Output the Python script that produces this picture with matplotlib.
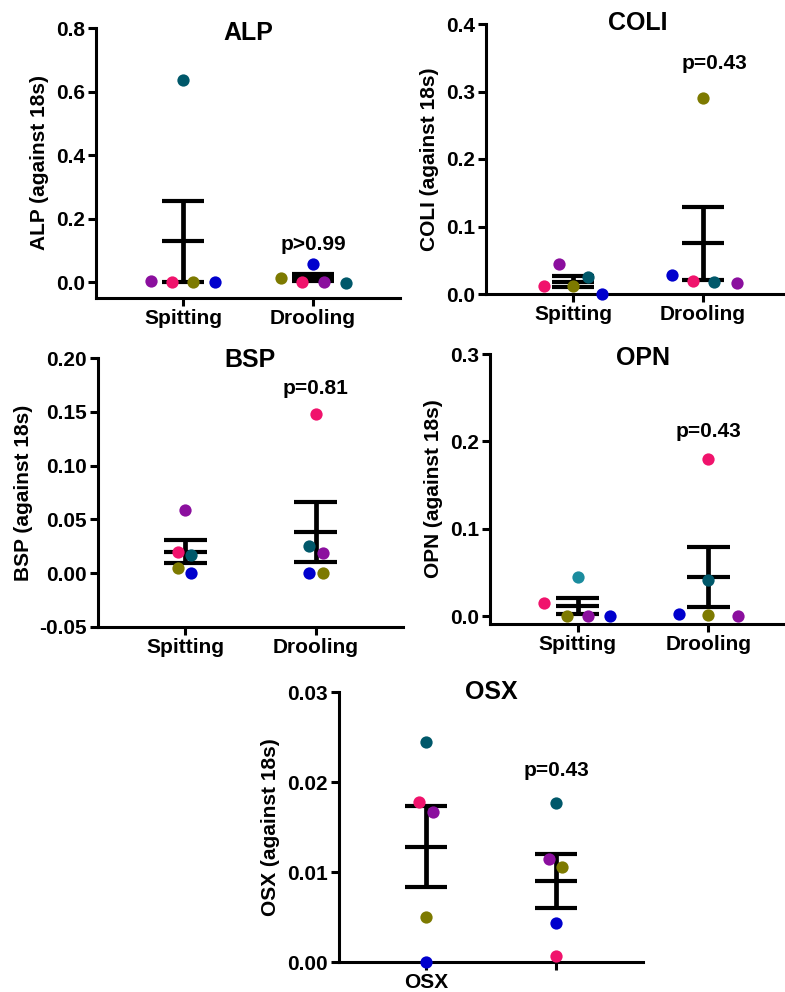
import matplotlib.pyplot as plt
from matplotlib.transforms import blended_transform_factory, offset_copy

plt.rcParams["font.family"] = ["Liberation Sans", "DejaVu Sans"]
plt.rcParams["font.weight"] = "bold"
plt.rcParams["axes.labelweight"] = "bold"

# dot order inside every group: purple, pink, olive, blue, teal
dot_names = ["purple", "pink", "olive", "blue", "teal"]

alp_spitting = [0.003, 0.0, 0.0, 0.0, 0.636]
alp_drooling = [0.0, 0.0, 0.012, 0.057, -0.002]
alp_mean = [0.128, 0.014]
alp_sem = [0.128, 0.011]

coli_spitting = [0.044, 0.012, 0.012, 0.0, 0.025]
coli_drooling = [0.017, 0.019, 0.290, 0.028, 0.018]
coli_mean = [0.018, 0.075]
coli_sem = [0.008, 0.054]

bsp_spitting = [0.059, 0.020, 0.005, 0.0, 0.017]
bsp_drooling = [0.019, 0.148, 0.0, 0.0, 0.025]
bsp_mean = [0.020, 0.038]
bsp_sem = [0.0105, 0.028]

opn_spitting = [0.0, 0.015, 0.0, 0.0, 0.045]
opn_drooling = [0.0, 0.180, 0.001, 0.002, 0.041]
opn_mean = [0.012, 0.045]
opn_sem = [0.009, 0.0345]

osx_group1 = [0.0167, 0.0178, 0.005, 0.0, 0.0244]
osx_group2 = [0.0114, 0.0007, 0.0106, 0.0043, 0.0177]
osx_mean = [0.0128, 0.0090]
osx_sem = [0.0045, 0.0030]

alp_ticks = [0.0, 0.2, 0.4, 0.6, 0.8]
coli_ticks = [0.0, 0.1, 0.2, 0.3, 0.4]
bsp_ticks = [-0.05, 0.0, 0.05, 0.10, 0.15, 0.20]
opn_ticks = [0.0, 0.1, 0.2, 0.3]
osx_ticks = [0.0, 0.01, 0.02, 0.03]

groups = ["Spitting", "Drooling"]
osx_groups = ["OSX", ""]

p_texts = ["p>0.99", "p=0.43", "p=0.81", "p=0.43", "p=0.43"]

COLORS = {
    "purple": "#8B0F9E",
    "pink": "#F0136C",
    "olive": "#7D7A00",
    "blue": "#0000CD",
    "teal": "#00586A",
}

W, H = 785, 992


def rect(left, right, top, bottom):
    return [left / W, 1 - bottom / H, (right - left) / W, (bottom - top) / H]


# x offsets of the dots (data units), same order as dot_names
panels = [
    dict(name="ALP", vals=[alp_spitting, alp_drooling], mean=alp_mean, sem=alp_sem,
         ticks=alp_ticks, fmt="{:.1f}", ylim=(-0.05, 0.8), xlabels=groups,
         rect=rect(96, 400, 28, 298), p=(1.0, 0.117), title_dy=-5,
         offs=[[-0.246, -0.085, 0.077, 0.246, 0.0], [0.085, -0.085, -0.246, 0.0, 0.254]]),
    dict(name="COLI", vals=[coli_spitting, coli_drooling], mean=coli_mean, sem=coli_sem,
         ticks=coli_ticks, fmt="{:.1f}", ylim=(0.0, 0.4), xlabels=groups,
         rect=rect(486, 790, 24, 294), p=(1.09, 0.341), title_dy=1,
         offs=[[-0.11, -0.22, 0.0, 0.22, 0.115], [0.262, -0.077, 0.0, -0.238, 0.085]]),
    dict(name="BSP", vals=[bsp_spitting, bsp_drooling], mean=bsp_mean, sem=bsp_sem,
         ticks=bsp_ticks, fmt="{:.2f}", ylim=(-0.05, 0.2), xlabels=groups,
         rect=rect(98, 403, 358, 627), p=(1.0, 0.172), title_dy=-2,
         offs=[[0.0, -0.054, -0.054, 0.046, 0.046], [0.054, 0.0, 0.054, -0.054, -0.054]]),
    dict(name="OPN", vals=[opn_spitting, opn_drooling], mean=opn_mean, sem=opn_sem,
         ticks=opn_ticks, fmt="{:.1f}", ylim=(-0.009, 0.3), xlabels=groups,
         rect=rect(490, 796, 354, 624), p=(1.0, 0.211), title_dy=-4,
         offs=[[0.077, -0.254, -0.085, 0.246, 0.0], [0.223, 0.0, 0.0, -0.223, 0.0]],
         teal_first="#1B8C9E"),
    dict(name="OSX", vals=[osx_group1, osx_group2], mean=osx_mean, sem=osx_sem,
         ticks=osx_ticks, fmt="{:.2f}", ylim=(0.0, 0.03), xlabels=osx_groups,
         rect=rect(339, 643, 692, 962), p=(1.0, 0.0213), title_dy=0,
         offs=[[0.054, -0.054, 0.0, 0.0, 0.0], [-0.054, 0.0, 0.046, 0.0, 0.0]]),
]

fig = plt.figure(figsize=(W / 100, H / 100), dpi=100)

for pn in panels:
    ax = fig.add_axes(pn["rect"])
    for spine in ["top", "right"]:
        ax.spines[spine].set_visible(False)
    for spine in ["left", "bottom"]:
        ax.spines[spine].set_linewidth(2.2)
    ax.tick_params(width=2.2, length=5.8, labelsize=15, pad=2)

    for gi in range(2):
        for k, name in enumerate(dot_names):
            col = COLORS[name]
            if name == "teal" and gi == 0 and "teal_first" in pn:
                col = pn["teal_first"]
            ax.scatter(gi + pn["offs"][gi][k], pn["vals"][gi][k], s=78, color=col,
                       zorder=4, clip_on=False, linewidths=0)
        m, e = pn["mean"][gi], pn["sem"][gi]
        ax.vlines(gi, m - e, m + e, color="black", linewidth=3.4, zorder=3)
        ax.hlines([m - e, m, m + e], gi - 0.165, gi + 0.165, color="black",
                  linewidth=3.0, zorder=3)

    ax.set_xlim(-0.67, 1.67)
    ax.set_ylim(*pn["ylim"])
    ax.set_xticks([0, 1])
    ax.set_xticklabels(pn["xlabels"])
    ax.set_yticks(pn["ticks"])
    ax.set_yticklabels([pn["fmt"].format(t) for t in pn["ticks"]])
    ax.set_ylabel(pn["name"] + " (against 18s)", fontsize=15, labelpad=5)

    trans = blended_transform_factory(ax.transData, ax.transAxes)
    trans = offset_copy(trans, fig=fig, y=pn["title_dy"], units="dots")
    ax.text(0.5, 1.0, pn["name"], transform=trans, ha="center", va="center",
            fontsize=18)
    ax.text(pn["p"][0], pn["p"][1], p_texts[panels.index(pn)], ha="center",
            va="center", fontsize=15)

fig.savefig("out.png", dpi=100)
